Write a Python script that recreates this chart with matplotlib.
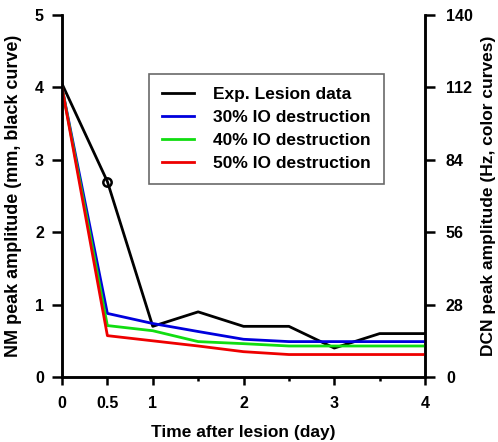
import matplotlib
matplotlib.use('Agg')
import matplotlib.pyplot as plt
import numpy as np

# 时间点（天）
days = [0, 0.5, 1, 1.5, 2, 2.5, 3, 3.5, 4]
# 实验数据 NM peak amplitude (mm)
exp_data = [4.05, 2.7, 0.7, 0.9, 0.7, 0.7, 0.4, 0.6, 0.6]
# 模型 DCN peak amplitude (Hz)
io30 = [112, 24.6, 20.7, 17.6, 14.6, 13.7, 13.7, 13.7, 13.7]
io40 = [112, 19.9, 17.9, 13.7, 12.9, 12.0, 12.0, 12.0, 12.0]
io50 = [112, 16.0, 14.0, 12.0, 9.8, 8.7, 8.7, 8.7, 8.7]

xticks = [0, 0.5, 1, 2, 3, 4]
xticklabels = ['0', '0.5', '1', '2', '3', '4']
left_ticks = [0, 1, 2, 3, 4, 5]
right_ticks = [0, 28, 56, 84, 112, 140]

plt.rcParams['font.family'] = ['Liberation Sans', 'DejaVu Sans']
plt.rcParams['font.weight'] = 'bold'

fig = plt.figure(figsize=(4.98, 4.42), dpi=100)
ax = fig.add_axes([0.1245, 0.147, 0.729, 0.819])
ax2 = ax.twinx()

lw = 2
l1, = ax.plot(days, exp_data, color='black', lw=lw, zorder=5)
ax.plot(days[1], exp_data[1], 'o', mfc='none', mec='black', mew=1.8, ms=6, zorder=6)
l2, = ax2.plot(days, io30, color='#0000dd', lw=lw)
l3, = ax2.plot(days, io40, color='#11dd11', lw=lw)
l4, = ax2.plot(days, io50, color='#ee0000', lw=lw)

ax.set_xlim(0, 4)
ax.set_ylim(0, 5)
ax2.set_ylim(0, 140)
ax.set_xticks(xticks)
ax.set_xticklabels(xticklabels)
ax.set_xticks([1.5, 2.5, 3.5], minor=True)
ax.set_yticks(left_ticks)
ax2.set_yticks(right_ticks)

for a in (ax, ax2):
    a.spines['top'].set_visible(False)
    for s in a.spines.values():
        s.set_linewidth(1.8)
    a.tick_params(which='both', direction='out', width=1.8, labelsize=11.5)
    a.tick_params(which='minor', length=3)
    a.set_facecolor('none')
ax.tick_params(axis='x', which='major', length=6, pad=8)
ax.tick_params(axis='y', which='major', length=7, pad=6)
ax2.tick_params(axis='y', which='major', length=7, pad=8)

ax.set_xlabel('Time after lesion (day)', fontsize=12.5, fontweight='bold', labelpad=10)
ax.set_ylabel('NM peak amplitude (mm, black curve)', fontsize=13, fontweight='bold', labelpad=9)
ax2.set_ylabel('DCN peak amplitude (Hz, color curves)', fontsize=12.5, fontweight='bold', labelpad=6)

leg = ax.legend([l1, l2, l3, l4],
                ['Exp. Lesion data', '30% IO destruction', '40% IO destruction', '50% IO destruction'],
                loc='upper left', bbox_to_anchor=(0.24, 0.837), borderaxespad=0,
                frameon=True, fancybox=False,
                prop={'weight': 'bold', 'size': 12.5}, handlelength=1.85, handletextpad=1.1,
                borderpad=0.75, labelspacing=0.45)
leg.get_frame().set_edgecolor('#444444')
leg.get_frame().set_linewidth(1.2)
leg.set_zorder(10)

plt.savefig('out.png', dpi=100)
